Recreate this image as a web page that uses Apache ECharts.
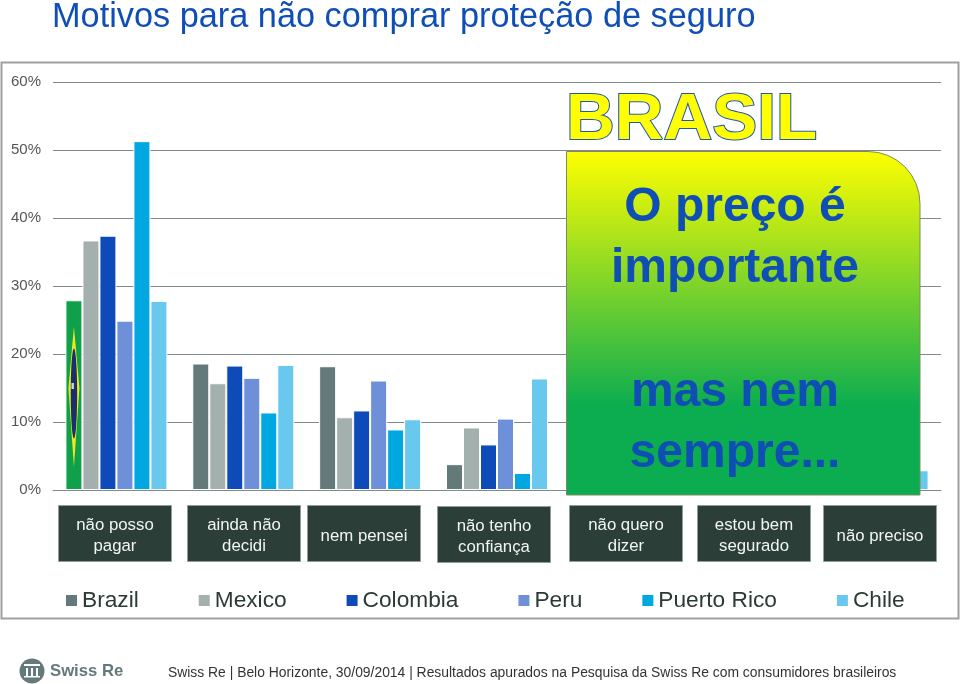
<!DOCTYPE html>
<html><head><meta charset="utf-8">
<style>html,body{margin:0;padding:0;background:#fff}#c{width:960px;height:684px}</style>
<script src="https://cdn.jsdelivr.net/npm/echarts@6/dist/echarts.min.js"></script>
</head><body><div id="c"></div>
<script>
const categories = ['não posso\npagar','ainda não\ndecidi','nem pensei','não tenho\nconfiança','não quero\ndizer','estou bem\nsegurado','não preciso'];
// The last three groups sit behind the callout panel: only Chile in the last group can be read.
const brazil    = [27.9,18.6,18.2,3.8,null,null,null];
const mexico    = [36.7,15.7,10.7,9.2,null,null,null];
const colombia  = [37.4,18.3,11.7,6.7,null,null,null];
const peru      = [24.9,16.5,16.1,10.5,null,null,null];
const puertoRico= [51.3,11.4,8.9,2.5,null,null,null];
const chile     = [27.8,18.4,10.4,16.4,null,null,2.9];
const seriesNames = ['Brazil','Mexico','Colombia','Peru','Puerto Rico','Chile'];
const titleText = 'Motivos para não comprar proteção de seguro';
const footerText = 'Swiss Re | Belo Horizonte, 30/09/2014 | Resultados apurados na Pesquisa da Swiss Re com consumidores brasileiros';

const colors = ['#64797a','#a3b0ad','#0f4bb8','#6e90d8','#00a7e0','#68c8ee'];
const BLUE = '#0f4fb5', GRID = '#7f8b8b', FONT = '"Liberation Sans", Arial, sans-serif';
const boxLayout = [[58,505],[187,505],[307,505],[437,506],[569,505],[697,505],[823,505]];

const values = [brazil,mexico,colombia,peru,puertoRico,chile];
const series = seriesNames.map((name,i)=>({
  name, type:'bar', barWidth:17, barGap:'0%',
  itemStyle:{color:colors[i],borderColor:'#fff',borderWidth:1},
  data: values[i].map((v,j)=> (i===0&&j===0) ? {value:v,itemStyle:{color:'#0ea14a'}} : v),
  silent:true, animation:false
}));

const chart = echarts.init(document.getElementById('c'),null,{renderer:'canvas'});

const staticGraphics = [
  {type:'rect',z:-10,silent:true,shape:{x:1.5,y:62.5,width:957,height:556},style:{fill:'#fff',stroke:'#a0a0a0',lineWidth:2}},
  {type:'text',z:5,silent:true,x:52,y:18,style:{text:titleText,font:'34.3px '+FONT,fill:BLUE,verticalAlign:'middle'}},
  // category label boxes
  ...categories.flatMap((c,i)=>{const [x,y]=boxLayout[i];return [
    {type:'rect',z:5,silent:true,shape:{x:x+.5,y:y+.5,width:113,height:56},style:{fill:'#2b3e38',stroke:'#8f9f9c',lineWidth:1}},
    {type:'text',z:6,silent:true,x:x+57,y:y+31,style:{text:c,font:'16.8px '+FONT,lineHeight:21,fill:'#f2f5f3',align:'center',verticalAlign:'middle'}}
  ];}),
  // callout
  {type:'text',z:20,silent:true,x:566,y:121,scaleX:1.054,style:{text:'BRASIL',font:'bold 64px '+FONT,fill:'#ffff00',stroke:'#1f55b5',lineWidth:2,verticalAlign:'middle'}},
  {type:'rect',z:20,silent:true,
    shape:{x:566.5,y:151.5,width:353.5,height:343.5,r:[0,52,0,0]},
    style:{fill:new echarts.graphic.LinearGradient(0,0,0,1,[{offset:0,color:'#ffff00'},{offset:.74,color:'#0bad50'},{offset:1,color:'#0bad50'}]),stroke:'#7f8a62',lineWidth:1}},
  ...[['O preço é',208],['importante',269],['mas nem',393],['sempre...',454]].map(([t,y])=>(
    {type:'text',z:21,silent:true,x:735,y,style:{text:t,font:'bold 48px '+FONT,fill:BLUE,align:'center',verticalAlign:'middle'}})),
  // footer
  {type:'circle',z:5,silent:true,shape:{cx:32,cy:671,r:12.5},style:{fill:'#64797a'}},
  {type:'rect',z:6,silent:true,shape:{x:24,y:664,width:16,height:2},style:{fill:'#fff'}},
  ...[26,31,36].map(x=>({type:'rect',z:6,silent:true,shape:{x,y:668,width:2,height:8},style:{fill:'#fff'}})),
  {type:'rect',z:6,silent:true,shape:{x:24,y:676,width:16,height:1.5},style:{fill:'#fff'}},
  {type:'text',z:5,silent:true,x:50,y:671,style:{text:'Swiss Re',font:'bold 16.7px '+FONT,fill:'#64797a',verticalAlign:'middle'}},
  {type:'text',z:5,silent:true,x:168,y:673,style:{text:footerText,font:'13.88px '+FONT,fill:'#333',verticalAlign:'middle'}}
].map((e,i)=>({...e,id:'g'+i}));

chart.setOption({
  animation:false,
  grid:{left:53,top:82,width:888,height:408,containLabel:false},
  legend:{left:66,top:589,itemGap:60,itemWidth:11,itemHeight:11,icon:'rect',selectedMode:false,padding:0,
    itemStyle:{borderWidth:0},
    textStyle:{fontFamily:FONT,fontSize:22.7,color:'#2c3a36'},data:seriesNames},
  xAxis:{type:'category',data:categories,axisTick:{show:false},axisLabel:{show:false},
    axisLine:{lineStyle:{color:GRID,width:1}},splitLine:{show:false}},
  yAxis:{type:'value',min:0,max:60,interval:10,axisLine:{show:false},axisTick:{show:false},
    axisLabel:{formatter:'{value}%',margin:12,padding:[2,0,0,0],fontFamily:FONT,fontSize:15,color:'#555'},
    splitLine:{lineStyle:{color:GRID,width:1}}},
  series,
  graphic:{elements:staticGraphics}
});

// Flag on the first Brazil bar, placed through the chart's own scales
const cx = chart.convertToPixel({xAxisIndex:0},0) - 2.5*17;
const yAt = v => chart.convertToPixel({yAxisIndex:0},v);
const top_ = yAt(24.0), bot = yAt(3.4), eTop = yAt(20.8), eBot = yAt(7.6), mid = yAt(15.0);
chart.setOption({graphic:{elements:[
  {id:'flag1',type:'polygon',z:4,silent:true,shape:{points:[[cx,top_],[cx+5.5,mid],[cx,bot],[cx-5.5,mid]]},style:{fill:'#f4e51c'}},
  {id:'flag2',type:'ellipse',z:4,silent:true,shape:{cx,cy:(eTop+eBot)/2,rx:3.2,ry:(eBot-eTop)/2},style:{fill:'#1a2f72'}},
  {id:'flag3',type:'rect',z:4,silent:true,shape:{x:cx-2.5,y:mid-5,width:2.5,height:6},style:{fill:'#cfd6c8'}}
]}});
</script></body></html>
